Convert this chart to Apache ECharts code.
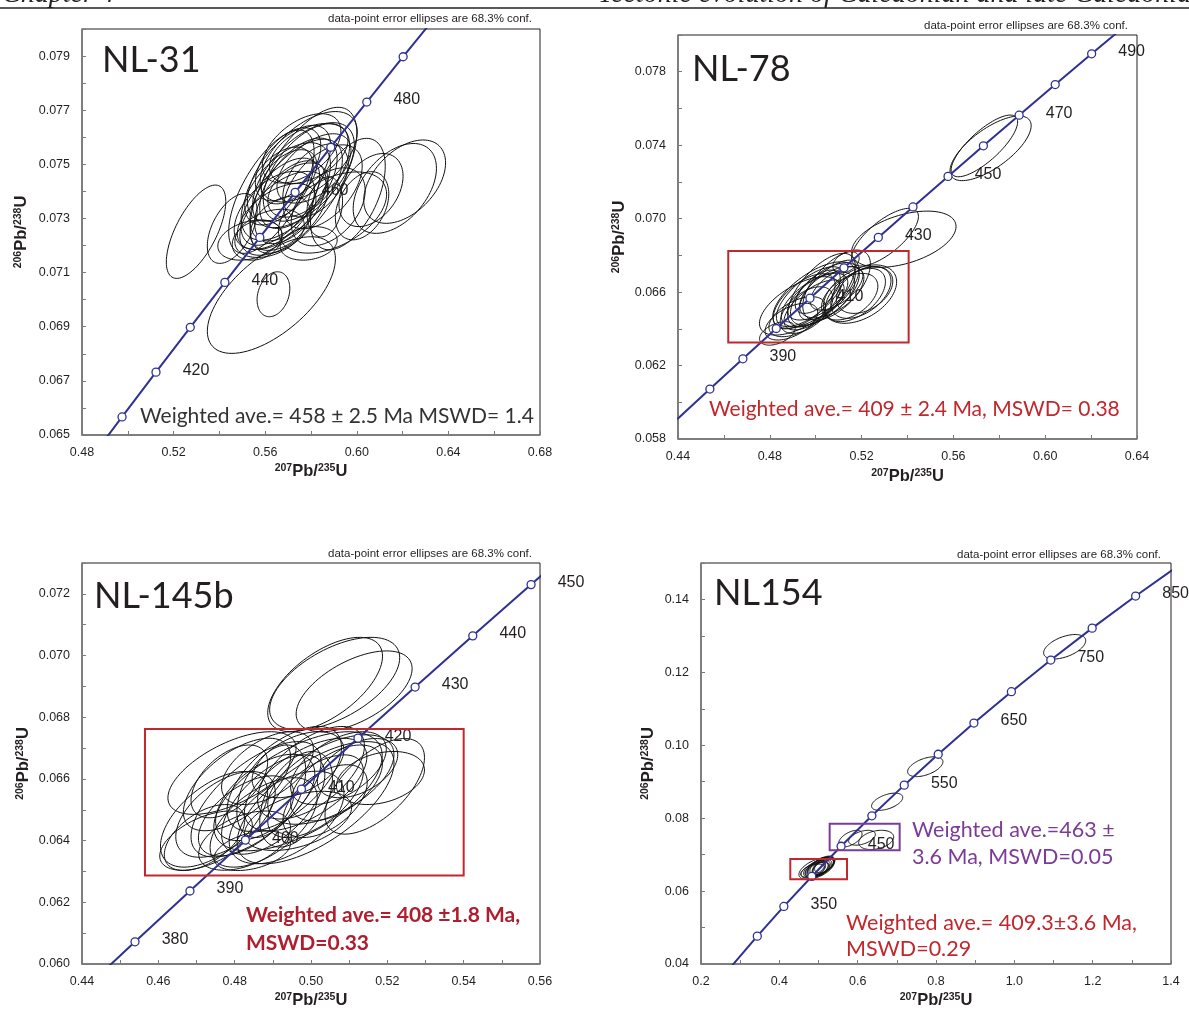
<!DOCTYPE html>
<html><head><meta charset="utf-8">
<script src="https://cdn.jsdelivr.net/npm/echarts@6/dist/echarts.min.js"></script>
<style>html,body{margin:0;padding:0;background:#fff}#c{width:1189px;height:1010px}</style>
</head><body><div id="c"></div>
<script>
// ================= DATA =================
// Concordia age markers (Ma) and their 207Pb/235U, 206Pb/238U coordinates
const nl31Ages = [400,410,420,430,440,450,460,470,480,490,500];
const nl31ConcX = [0.48281,0.49749,0.51231,0.52728,0.54239,0.55766,0.57307,0.58864,0.60437,0.62024,0.63628];
const nl31ConcY = [0.064016,0.065667,0.067322,0.068979,0.070638,0.072300,0.073965,0.075632,0.077302,0.078975,0.080650];
const nl31Labelled = [420,440,460,480];

const nl78Ages = [370,380,390,400,410,420,430,440,450,460,470,480,490,500];
const nl78ConcX = [0.43964,0.45389,0.46828,0.48281,0.49749,0.51231,0.52728,0.54239,0.55766,0.57307,0.58864,0.60437,0.62024,0.63628];
const nl78ConcY = [0.059075,0.060720,0.062366,0.064016,0.065667,0.067322,0.068979,0.070638,0.072300,0.073965,0.075632,0.077302,0.078975,0.080650];
const nl78Labelled = [390,410,430,450,470,490];

const nl145Ages = [370,380,390,400,410,420,430,440,450,460];
const nl145ConcX = [0.43964,0.45389,0.46828,0.48281,0.49749,0.51231,0.52728,0.54239,0.55766,0.57307];
const nl145ConcY = [0.059075,0.060720,0.062366,0.064016,0.065667,0.067322,0.068979,0.070638,0.072300,0.073965];
const nl145Labelled = [380,390,400,410,420,430,440,450];

const nl154Ages = [250,300,350,400,450,500,550,600,650,700,750,800,850,900];
const nl154ConcX = [0.27917,0.34374,0.41156,0.48281,0.55766,0.63628,0.71887,0.80563,0.89677,0.99251,1.09308,1.19873,1.30971,1.42629];
const nl154ConcY = [0.039543,0.047637,0.055795,0.064016,0.072300,0.080650,0.089064,0.097544,0.10609,0.11470,0.12338,0.13213,0.14094,0.14983];
const nl154Labelled = [350,450,550,650,750,850];

// Error ellipses: [207/235 centre, 206/238 centre, half-extent x, half-extent y, correlation]
const nl31Ellipses = [
 [0.5627,0.07017,0.02797,0.002155,0.62],[0.5636,0.07020,0.00715,0.00083,0.25],
 [0.5298,0.07251,0.01298,0.001724,0.65],[0.5456,0.07263,0.01088,0.00129,0.50],
 [0.5533,0.07220,0.01400,0.00074,0.30],[0.5627,0.07399,0.01865,0.002278,0.65],
 [0.5767,0.07441,0.02331,0.002697,0.65],[0.6209,0.07436,0.01787,0.00154,0.45],
 [0.6166,0.07411,0.01818,0.00166,0.45],[0.6023,0.07347,0.01166,0.00126,0.35],
 [0.5961,0.07390,0.01632,0.00206,0.50],[0.5894,0.07322,0.02362,0.00150,0.45],
 [0.5860,0.07343,0.00777,0.00111,0.20],[0.5790,0.07208,0.01243,0.00062,0.20],
 [0.5666,0.07362,0.01717,0.00161,0.58],[0.5704,0.07467,0.01819,0.00177,0.58],
 [0.5767,0.07460,0.02223,0.00194,0.58],[0.5790,0.07528,0.02122,0.00167,0.55],
 [0.5790,0.07540,0.01716,0.00111,0.45],[0.5681,0.07319,0.01919,0.00155,0.55],
 [0.5650,0.07307,0.01717,0.00122,0.52],[0.5704,0.07454,0.01212,0.00100,0.45],
 [0.5743,0.07405,0.01313,0.00100,0.40],[0.5666,0.07282,0.01313,0.00100,0.40],
 [0.5813,0.07485,0.01616,0.00128,0.52],[0.5619,0.07245,0.01516,0.00089,0.35],
 [0.5852,0.07417,0.01716,0.00155,0.50],[0.5735,0.07405,0.02020,0.00188,0.60],
 [0.5565,0.07220,0.01088,0.00074,0.22],[0.5875,0.07343,0.01616,0.00144,0.42],
 [0.6062,0.07405,0.01400,0.00135,0.38],[0.5759,0.07559,0.01716,0.00128,0.50],
 [0.5690,0.07400,0.01950,0.00180,0.55],[0.5745,0.07430,0.01690,0.00167,0.55],
 [0.5710,0.07360,0.01560,0.00153,0.50],[0.5780,0.07470,0.01885,0.00180,0.55],
 [0.5660,0.07420,0.01495,0.00144,0.50],[0.5820,0.07440,0.01430,0.00135,0.45],
 [0.5700,0.07500,0.01430,0.00135,0.50],[0.5640,0.07330,0.01755,0.00144,0.50]
];
const nl78Ellipses = [
 [0.5762,0.07383,0.01768,0.00176,0.70],[0.5735,0.07396,0.01449,0.00168,0.78],
 [0.5302,0.06899,0.01457,0.00157,0.72],[0.5384,0.06888,0.02275,0.00153,0.45],
 [0.4833,0.06375,0.00777,0.00064,0.45],[0.4931,0.06525,0.01760,0.00159,0.60],
 [0.5193,0.06589,0.01596,0.00159,0.42],[0.5197,0.06598,0.01309,0.00141,0.45],
 [0.5173,0.06584,0.01309,0.00145,0.50],[0.4993,0.06584,0.01800,0.00181,0.65],
 [0.4976,0.06575,0.01473,0.00163,0.68],[0.5025,0.06611,0.01473,0.00200,0.65],
 [0.5091,0.06638,0.01473,0.00191,0.60],[0.5132,0.06762,0.00573,0.00058,0.38],
 [0.4960,0.06502,0.01146,0.00127,0.52],[0.5009,0.06575,0.01309,0.00127,0.60],
 [0.5009,0.06602,0.00982,0.00118,0.60],[0.4919,0.06466,0.01228,0.00109,0.52],
 [0.5091,0.06620,0.01146,0.00118,0.60],[0.5213,0.06611,0.01228,0.00127,0.38],
 [0.4993,0.06530,0.01309,0.00136,0.65],[0.5058,0.06611,0.01309,0.00163,0.68],
 [0.4894,0.06439,0.01146,0.00100,0.52],[0.5148,0.06575,0.01228,0.00127,0.45],
 [0.5040,0.06590,0.01500,0.00170,0.62],[0.4950,0.06550,0.01350,0.00150,0.60],
 [0.5010,0.06560,0.01600,0.00150,0.60],[0.5070,0.06600,0.01400,0.00140,0.55]
];
const nl145Ellipses = [
 [0.5037,0.06906,0.01504,0.00153,0.60],[0.5062,0.06909,0.01704,0.00150,0.56],
 [0.5113,0.06884,0.01519,0.00131,0.56],[0.4725,0.06400,0.01213,0.00096,0.52],
 [0.4793,0.06619,0.01679,0.00134,0.60],[0.4746,0.06469,0.01404,0.00155,0.56],
 [0.5167,0.06576,0.01303,0.00155,0.60],[0.5012,0.06523,0.02055,0.00198,0.65],
 [0.4966,0.06560,0.02206,0.00193,0.60],[0.4806,0.06582,0.01404,0.00150,0.60],
 [0.4856,0.06534,0.01704,0.00187,0.65],[0.4986,0.06582,0.01604,0.00150,0.60],
 [0.5052,0.06598,0.01654,0.00145,0.56],[0.5067,0.06587,0.01203,0.00123,0.52],
 [0.4901,0.06517,0.01353,0.00161,0.60],[0.4936,0.06475,0.01504,0.00150,0.52],
 [0.4826,0.06400,0.01203,0.00096,0.45],[0.4721,0.06410,0.01053,0.00107,0.52],
 [0.4896,0.06560,0.00902,0.00150,0.45],[0.4961,0.06534,0.00952,0.00155,0.45],
 [0.5182,0.06603,0.01153,0.00086,0.30],[0.5072,0.06635,0.01253,0.00118,0.52],
 [0.4876,0.06459,0.01404,0.00145,0.56],[0.4966,0.06464,0.01404,0.00096,0.45],
 [0.4776,0.06485,0.01303,0.00139,0.52],[0.5012,0.06544,0.01253,0.00134,0.60],
 [0.4886,0.06635,0.01203,0.00118,0.52],[0.4966,0.06646,0.01203,0.00107,0.45],
 [0.5037,0.06528,0.01103,0.00118,0.52],[0.4846,0.06367,0.01003,0.00064,0.38],
 [0.5122,0.06635,0.01053,0.00096,0.45],[0.4786,0.06592,0.01003,0.00118,0.52],
 [0.4930,0.06600,0.01500,0.00170,0.60],[0.4880,0.06540,0.01300,0.00140,0.55],
 [0.5000,0.06620,0.01400,0.00150,0.58],[0.4830,0.06480,0.01250,0.00130,0.55]
];
const nl154Ellipses = [
 [1.1285,0.12703,0.0537,0.00335,0.50],[0.7726,0.09412,0.0451,0.00272,0.50],
 [0.6753,0.08451,0.0398,0.00236,0.50],[0.5813,0.07440,0.0299,0.00227,0.55],
 [0.6110,0.07463,0.0341,0.00204,0.45],[0.6472,0.07404,0.0447,0.00264,0.30],
 [0.4950,0.06620,0.0450,0.00300,0.55],[0.5000,0.06640,0.0380,0.00260,0.60],
 [0.5050,0.06660,0.0350,0.00280,0.60],[0.5100,0.06700,0.0320,0.00260,0.55],
 [0.4900,0.06580,0.0350,0.00220,0.55],[0.5150,0.06720,0.0250,0.00220,0.50],
 [0.5000,0.06600,0.0280,0.00200,0.50],[0.4850,0.06560,0.0300,0.00180,0.50],
 [0.5050,0.06620,0.0200,0.00180,0.45],[0.4950,0.06650,0.0220,0.00200,0.50],
 [0.5100,0.06650,0.0240,0.00210,0.55],[0.4980,0.06610,0.0320,0.00240,0.55],
 [0.5120,0.06690,0.0280,0.00240,0.60],[0.4920,0.06590,0.0260,0.00190,0.50]
];
// Selection boxes [x1, y1, x2, y2] in data units
const nl78Box = [[0.4619,0.06325,0.5405,0.06824]];
const nl145Box = [[0.4565,0.06287,0.5400,0.06762]];
const nl154RedBox = [[0.4280,0.06325,0.5728,0.06879]];
const nl154PurpleBox = [[0.5285,0.07122,0.7072,0.07846]];

// Axis ranges: [min, max, tick interval, label every n ticks, decimals]
const nl31XAxis = [0.48,0.68,0.02,2,2], nl31YAxis = [0.065,0.080,0.001,2,3];
const nl78XAxis = [0.44,0.64,0.02,2,2], nl78YAxis = [0.058,0.080,0.002,2,3];
const nl145XAxis = [0.44,0.56,0.01,2,2], nl145YAxis = [0.060,0.073,0.001,2,3];
const nl154XAxis = [0.2,1.4,0.1,2,1], nl154YAxis = [0.04,0.15,0.01,2,2];

// ================= CHART =================
const NAVY = '#2e3192', RED = '#c1272d', PURPLE = '#7b3c98', INK = '#231f20';
const ARIAL = '"Liberation Sans", Arial, sans-serif';
const MYRIAD = 'Lato, "Noto Sans", sans-serif';

const grids = [
  {left: 82, top: 29, width: 458, height: 406},
  {left: 678, top: 35, width: 459, height: 404},
  {left: 82, top: 563, width: 458, height: 405},
  {left: 701, top: 563, width: 470, height: 405}
].map(g => Object.assign(g, {show: true, borderColor: '#231f20', borderWidth: 1, backgroundColor: 'transparent'}));

const axName = (a, b) => `{s|${a}}{b|Pb/}{s|${b}}{b|U}`;
const nameStyle = {
  rich: {
    s: {fontSize: 10.5, fontWeight: 'bold', fontFamily: ARIAL, color: INK, verticalAlign: 'top', lineHeight: 17},
    b: {fontSize: 16.5, fontWeight: 'bold', fontFamily: ARIAL, color: INK, verticalAlign: 'bottom', lineHeight: 17}
  }
};
function makeAxis(dim, gi, spec, name, nameGap) {
  const [min, max, interval, every, dec] = spec;
  const ax = {
    gridIndex: gi, type: 'value', min, max, interval,
    axisLine: {show: true, onZero: false, lineStyle: {color: '#7a7a7a', width: 1.6}},
    axisTick: {show: true, inside: true, length: 4, lineStyle: {color: '#7a7a7a', width: 1}},
    splitLine: {show: false},
    axisLabel: {
      margin: dim === 'x' ? 11 : 12, color: INK, fontFamily: ARIAL, fontSize: 12.5,
      formatter: v => (Math.round((v - min) / interval) % every === 0) ? v.toFixed(dec) : ''
    },
    name, nameLocation: 'middle', nameGap, nameTextStyle: nameStyle
  };
  if (dim === 'y') ax.nameRotate = 90;
  return ax;
}

const xAxes = [
  makeAxis('x', 0, nl31XAxis, axName(207, 235), 28),
  makeAxis('x', 1, nl78XAxis, axName(207, 235), 29),
  makeAxis('x', 2, nl145XAxis, axName(207, 235), 28),
  makeAxis('x', 3, nl154XAxis, axName(207, 235), 28)
];
const yAxes = [
  makeAxis('y', 0, nl31YAxis, axName(206, 238), 52),
  makeAxis('y', 1, nl78YAxis, axName(206, 238), 50),
  makeAxis('y', 2, nl145YAxis, axName(206, 238), 50),
  makeAxis('y', 3, nl154YAxis, axName(206, 238), 44)
];

function ellipseRender(params, api) {
  const cx = api.value(0), cy = api.value(1), sx = api.value(2), sy = api.value(3), r = api.value(4);
  const q = Math.sqrt(1 - r * r);
  const pts = [];
  for (let i = 0; i < 90; i++) {
    const t = i / 90 * Math.PI * 2, c = Math.cos(t), s = Math.sin(t);
    pts.push(api.coord([cx + sx * c, cy + sy * (r * c + q * s)]));
  }
  return {type: 'polygon', shape: {points: pts}, style: {fill: 'none', stroke: '#111', lineWidth: 1}};
}
function boxRender(color) {
  return function (params, api) {
    const a = api.coord([api.value(0), api.value(3)]);
    const b = api.coord([api.value(2), api.value(1)]);
    return {type: 'rect', shape: {x: a[0], y: a[1], width: b[0] - a[0], height: b[1] - a[1]},
      style: {fill: 'none', stroke: color, lineWidth: 2}};
  };
}

const series = [];
function addPanel(i, ages, cx, cy, labelled, ellipses) {
  series.push({type: 'custom', xAxisIndex: i, yAxisIndex: i, data: ellipses, encode: {x: 0, y: 1},
    renderItem: ellipseRender, clip: true, silent: true, z: 2});
  series.push({type: 'line', xAxisIndex: i, yAxisIndex: i, data: ages.map((a, j) => [cx[j], cy[j]]),
    showSymbol: false, symbol: 'none', lineStyle: {color: NAVY, width: 2}, clip: true, silent: true, z: 3});
  series.push({type: 'scatter', xAxisIndex: i, yAxisIndex: i, data: ages.map((a, j) => [cx[j], cy[j], a]),
    symbol: 'circle', symbolSize: 8, clip: true, silent: true, z: 4,
    itemStyle: {color: '#fff', borderColor: NAVY, borderWidth: 1.3, opacity: 1},
    label: {show: true, position: 'inside', offset: [40, -2], color: INK, fontFamily: ARIAL, fontSize: 16,
      formatter: p => labelled.includes(p.value[2]) ? String(p.value[2]) : ''}});
}
function addBox(i, boxes, color) {
  series.push({type: 'custom', xAxisIndex: i, yAxisIndex: i, data: boxes, encode: {x: [0, 2], y: [1, 3]},
    renderItem: boxRender(color), silent: true, z: 5});
}
addPanel(0, nl31Ages, nl31ConcX, nl31ConcY, nl31Labelled, nl31Ellipses);
addPanel(1, nl78Ages, nl78ConcX, nl78ConcY, nl78Labelled, nl78Ellipses);
addPanel(2, nl145Ages, nl145ConcX, nl145ConcY, nl145Labelled, nl145Ellipses);
addPanel(3, nl154Ages, nl154ConcX, nl154ConcY, nl154Labelled, nl154Ellipses);
addBox(1, nl78Box, RED);
addBox(2, nl145Box, RED);
addBox(3, nl154RedBox, RED);
addBox(3, nl154PurpleBox, PURPLE);

function txt(x, y, text, font, fill, align) {
  return {type: 'text', x, y, silent: true, z: 10,
    style: Object.assign({text, fill, align: align || 'left', verticalAlign: 'middle'}, font)};
}
const conf = 'data-point error ellipses are 68.3% conf.';
const fConf = {fontFamily: ARIAL, fontSize: 11.5};
const fTitle = {fontFamily: MYRIAD, fontSize: 36};
const fWav = {fontFamily: MYRIAD, fontSize: 21};
const fWav4 = {fontFamily: MYRIAD, fontSize: 21.5};
const fWavB = {fontFamily: MYRIAD, fontSize: 21, fontWeight: 'bold'};
const fHead = {fontFamily: '"Liberation Serif", serif', fontSize: 28, fontStyle: 'italic'};

const graphic = [
  {type: 'line', shape: {x1: 0, y1: 8, x2: 1189, y2: 8}, style: {stroke: '#222', lineWidth: 1.6}, silent: true},
  txt(2, -5.5, 'Chapter 4', fHead, '#222'),
  txt(598, -5.5, 'Tectonic evolution of Caledonian and late Caledonian', fHead, '#222'),
  txt(532, 19, conf, fConf, INK, 'right'),
  txt(1128, 26, conf, fConf, INK, 'right'),
  txt(532, 554, conf, fConf, INK, 'right'),
  txt(1161, 555, conf, fConf, INK, 'right'),
  txt(102, 60, 'NL-31', fTitle, INK),
  txt(692, 69, 'NL-78', fTitle, INK),
  txt(94, 596, 'NL-145b', fTitle, INK),
  txt(714, 593, 'NL154', fTitle, INK),
  txt(140, 416, 'Weighted ave.= 458 ± 2.5 Ma MSWD= 1.4', fWav, '#333'),
  txt(709, 409, 'Weighted ave.= 409 ± 2.4 Ma, MSWD= 0.38', fWav, RED),
  txt(246, 915, 'Weighted ave.= 408 ±1.8 Ma,', fWavB, '#b01e2e'),
  txt(246, 943, 'MSWD=0.33', fWavB, '#b01e2e'),
  txt(912, 830, 'Weighted ave.=463 ±', fWav4, PURPLE),
  txt(912, 857, '3.6 Ma, MSWD=0.05', fWav4, PURPLE),
  txt(846, 923, 'Weighted ave.= 409.3±3.6 Ma,', fWav4, RED),
  txt(846, 949, 'MSWD=0.29', fWav4, RED)
];

const chart = echarts.init(document.getElementById('c'), null, {renderer: 'canvas'});
chart.setOption({
  backgroundColor: '#fff', animation: false,
  grid: grids, xAxis: xAxes, yAxis: yAxes, series, graphic
});
</script></body></html>
